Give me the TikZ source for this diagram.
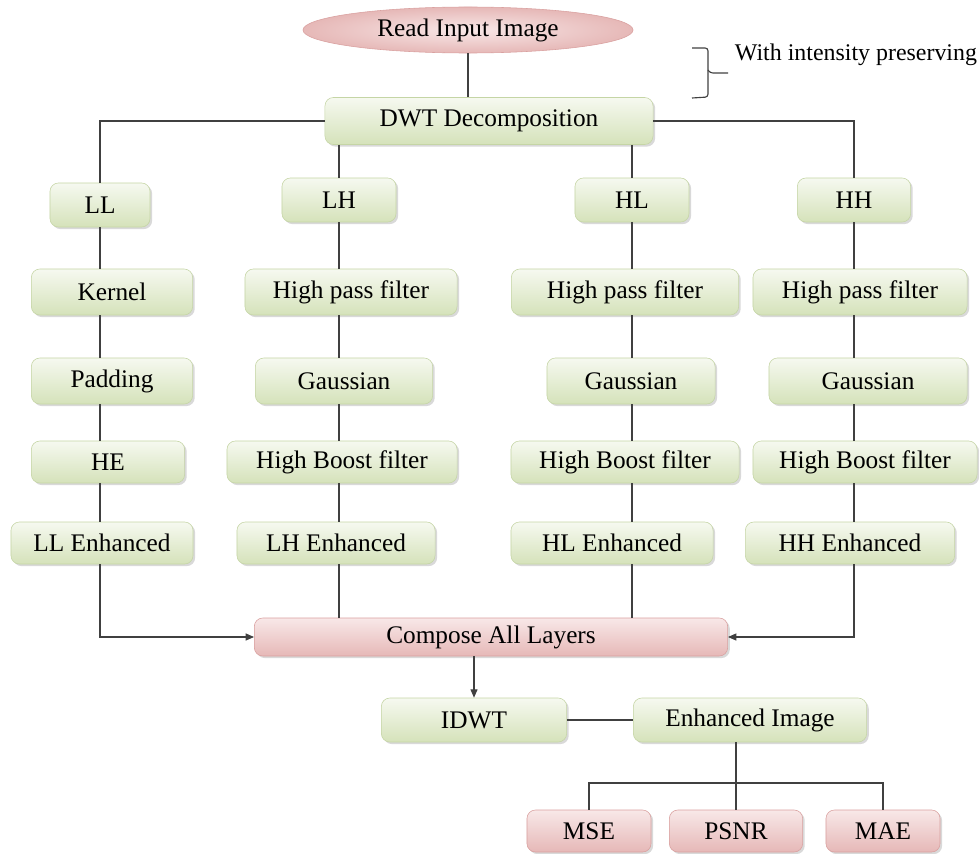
\documentclass[tikz,border=0pt]{standalone}
\usepackage{fontspec}
\setmainfont{Liberation Serif}
\usetikzlibrary{shapes.geometric,shadows,arrows.meta}

\definecolor{greentop}{HTML}{F6F9F0}
\definecolor{greenbot}{HTML}{D5E2BA}
\definecolor{greenline}{HTML}{C5D5A5}
\definecolor{pinktop}{HTML}{F8E8E8}
\definecolor{pinkbot}{HTML}{E6B8B7}
\definecolor{pinkline}{HTML}{D9A09F}
\definecolor{linegray}{HTML}{404040}

\begin{document}
\begin{tikzpicture}[x=0.025cm,y=-0.025cm,
    font=\fontsize{18}{21}\selectfont,
    greenbox/.style={rectangle,rounded corners=6pt,draw=greenline,top color=greentop,
      bottom color=greenbot,inner sep=1pt,
      drop shadow={shadow xshift=1.5pt,shadow yshift=-1.5pt,opacity=0.3}},
    pinkbox/.style={rectangle,rounded corners=6pt,draw=pinkline,top color=pinktop,
      bottom color=pinkbot,inner sep=1pt,
      drop shadow={shadow xshift=1.5pt,shadow yshift=-1.5pt,opacity=0.3}},
    link/.style={draw=linegray,line width=0.8pt}]

  % Fix the page size
  \useasboundingbox (0,0) rectangle (979,854);

  % Input and decomposition
  \node[ellipse,draw=pinkline,inner color=pinktop,outer color=pinkbot,inner sep=0pt,
    minimum width=8.25cm,minimum height=1.15cm] (read) at (468,30) {Read Input Image};
  \node[greenbox,minimum width=8.2cm,minimum height=1.175cm] (dwt) at (489,121) {DWT Decomposition};

  % Note on the right
  \draw[link,rounded corners=2pt] (692,48) -- (708,48) -- (708,97) -- (692,98);
  \draw[link,rounded corners=2pt] (708,70) -- (710,73) -- (728,73);
  \node[anchor=west,font=\fontsize{17}{20}\selectfont] (note) at (730,55) {With intensity preserving};

  % Sub-bands
  \node[greenbox,minimum width=2.5cm,minimum height=1.1cm] (ll) at (100,205) {LL};
  \node[greenbox,minimum width=2.85cm,minimum height=1.1cm] (lh) at (339,200) {LH};
  \node[greenbox,minimum width=2.85cm,minimum height=1.1cm] (hl) at (632,200) {HL};
  \node[greenbox,minimum width=2.83cm,minimum height=1.1cm] (hh) at (854,200) {HH};

  % LL column
  \node[greenbox,minimum width=4.03cm,minimum height=1.15cm] (kernel) at (112,292) {Kernel};
  \node[greenbox,minimum width=4.03cm,minimum height=1.15cm] (padding) at (112,381) {Padding};
  \node[greenbox,minimum width=3.83cm,minimum height=1.05cm] (he) at (108,462) {HE};
  \node[greenbox,minimum width=4.55cm,minimum height=1.05cm] (llenh) at (102,543) {LL Enhanced};

  % LH column
  \node[greenbox,minimum width=5.3cm,minimum height=1.15cm] (lhhpf) at (351,292) {High pass filter};
  \node[greenbox,minimum width=4.43cm,minimum height=1.15cm] (lhgauss) at (344,381) {Gaussian};
  \node[greenbox,minimum width=5.75cm,minimum height=1.05cm] (lhboost) at (342,462) {High Boost filter};
  \node[greenbox,minimum width=4.95cm,minimum height=1.05cm] (lhenh) at (336,543) {LH Enhanced};

  % HL column
  \node[greenbox,minimum width=5.68cm,minimum height=1.15cm] (hlhpf) at (625,292) {High pass filter};
  \node[greenbox,minimum width=4.2cm,minimum height=1.15cm] (hlgauss) at (631,381) {Gaussian};
  \node[greenbox,minimum width=5.7cm,minimum height=1.05cm] (hlboost) at (625,462) {High Boost filter};
  \node[greenbox,minimum width=5.05cm,minimum height=1.05cm] (hlenh) at (612,543) {HL Enhanced};

  % HH column
  \node[greenbox,minimum width=5.35cm,minimum height=1.15cm] (hhhpf) at (860,292) {High pass filter};
  \node[greenbox,minimum width=4.95cm,minimum height=1.15cm] (hhgauss) at (868,381) {Gaussian};
  \node[greenbox,minimum width=5.6cm,minimum height=1.05cm] (hhboost) at (865,462) {High Boost filter};
  \node[greenbox,minimum width=5.23cm,minimum height=1.05cm] (hhenh) at (850,543) {HH Enhanced};

  % Recomposition and output
  \node[pinkbox,minimum width=11.83cm,minimum height=0.95cm] (compose) at (491,637) {Compose All Layers};
  \node[greenbox,minimum width=4.63cm,minimum height=1.1cm] (idwt) at (474,720) {IDWT};
  \node[greenbox,minimum width=5.83cm,minimum height=1.1cm] (enhimg) at (750,720) {Enhanced Image};

  % Quality measures
  \node[pinkbox,minimum width=3.1cm,minimum height=1.05cm] (mse) at (589,831) {MSE};
  \node[pinkbox,minimum width=3.33cm,minimum height=1.05cm] (psnr) at (736,831) {PSNR};
  \node[pinkbox,minimum width=2.85cm,minimum height=1.05cm] (mae) at (883,831) {MAE};
  \coordinate (split) at (736,783);

  % Connectors at the top
  \draw[link] (read) -- (read |- dwt.north);
  \draw[link] (dwt.west) -| (ll);
  \draw[link] (dwt.east) -| (hh);
  \draw[link] (dwt.south -| lh) -- (lh);
  \draw[link] (dwt.south -| hl) -- (hl);

  % Column connectors
  \draw[link] (ll) -- (kernel.north -| ll) (kernel.south -| ll) -- (padding.north -| ll)
    (padding.south -| ll) -- (he.north -| ll) (he.south -| ll) -- (llenh.north -| ll);
  \draw[link] (lh) -- (lhhpf.north -| lh) (lhhpf.south -| lh) -- (lhgauss.north -| lh)
    (lhgauss.south -| lh) -- (lhboost.north -| lh) (lhboost.south -| lh) -- (lhenh.north -| lh);
  \draw[link] (hl) -- (hlhpf.north -| hl) (hlhpf.south -| hl) -- (hlgauss.north -| hl)
    (hlgauss.south -| hl) -- (hlboost.north -| hl) (hlboost.south -| hl) -- (hlenh.north -| hl);
  \draw[link] (hh) -- (hhhpf.north -| hh) (hhhpf.south -| hh) -- (hhgauss.north -| hh)
    (hhgauss.south -| hh) -- (hhboost.north -| hh) (hhboost.south -| hh) -- (hhenh.north -| hh);

  % Into the composition
  \draw[link,-{Triangle[length=6pt,width=5pt]}] (llenh.south -| ll) |- (compose.west);
  \draw[link,-{Triangle[length=6pt,width=5pt]}] (hhenh.south -| hh) |- (compose.east);
  \draw[link] (lhenh.south -| lh) -- (compose.north -| lh);
  \draw[link] (hlenh.south -| hl) -- (compose.north -| hl);

  % Output part
  \draw[link,-{Triangle[length=6pt,width=5pt]}] (compose.south -| idwt) -- (idwt);
  \draw[link] (idwt) -- (enhimg);
  \draw[link] (enhimg.south -| psnr) -- (psnr);
  \draw[link] (mse) |- (split) -| (mae);

\end{tikzpicture}
\end{document}
